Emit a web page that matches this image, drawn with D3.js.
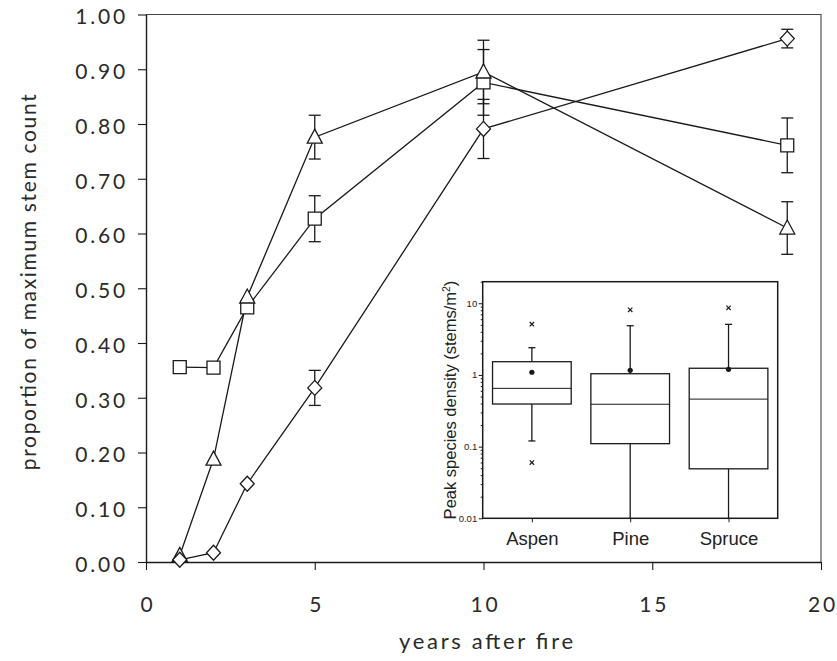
<!DOCTYPE html>
<html><head><meta charset="utf-8">
<script src="https://cdn.jsdelivr.net/npm/d3@7"></script>
<style>body{margin:0;background:#fff}svg{display:block}</style>
</head><body>
<svg id="c" width="837" height="661"></svg>
<script>
// ---- main chart data ----
const years = [1, 2, 3, 5, 10, 19];
const squareVals   = [0.356, 0.355, 0.465, 0.627, 0.876, 0.761];
const squareErr    = [null, null, null, 0.042, 0.060, 0.050];
const triangleVals = [0.012, 0.188, 0.484, 0.776, 0.895, 0.610];
const triangleErr  = [null, null, null, 0.040, 0.058, 0.048];
const diamondVals  = [0.004, 0.017, 0.143, 0.318, 0.791, 0.956];
const diamondErr   = [null, null, null, 0.032, 0.054, 0.017];
const xTicks = [0, 5, 10, 15, 20];
const yTicks = [0, 0.1, 0.2, 0.3, 0.4, 0.5, 0.6, 0.7, 0.8, 0.9, 1.0];
const xTitle = "years after fire";
const yTitle = "proportion of maximum stem count";

// ---- inset box-plot data ----
const species     = ["Aspen", "Pine", "Spruce"];
const q1          = [0.393, 0.110, 0.049];
const medianVals  = [0.650, 0.390, 0.460];
const q3          = [1.53, 1.04, 1.24];
const whiskerLow  = [0.12, 0.01, 0.01];
const whiskerHigh = [2.40, 4.86, 5.08];
const meanVals    = [1.09, 1.16, 1.20];
const outliers    = [[5.1, 0.06], [8.1], [8.65]];
const insetMajorTicks = [0.01, 0.1, 1, 10];

const INK = "#1a1a1a";
const svg = d3.select("#c");
svg.append("rect").attr("width", 837).attr("height", 661).attr("fill", "#fff");

const x = d3.scaleLinear().domain([0, 20]).range([146, 821]);
const y = d3.scaleLinear().domain([0, 1]).range([562, 14.5]);

const mainFont = "Lato, 'DejaVu Sans', sans-serif";

// frame (top and right)
svg.append("path")
  .attr("d", `M${x(0)},${y(1)}H${x(20)}V${y(0)}`)
  .attr("fill", "none").attr("stroke", "#444").attr("stroke-width", 1.1);

// axes
const gy = svg.append("g").attr("transform", `translate(${x(0)},0)`)
  .call(d3.axisLeft(y).tickValues(yTicks).tickFormat(d3.format(".2f")).tickSize(8).tickSizeOuter(0).tickPadding(10));
const gx = svg.append("g").attr("transform", `translate(0,${y(0)})`)
  .call(d3.axisBottom(x).tickValues(xTicks).tickFormat(d3.format("d")).tickSize(8).tickSizeOuter(0).tickPadding(27));
[gy, gx].forEach(g => {
  g.select(".domain").attr("stroke", INK).attr("stroke-width", 1.4);
  g.selectAll(".tick line").attr("stroke", INK).attr("stroke-width", 1.1);
  g.selectAll(".tick text").attr("fill", "#2a2a2a").style("font-family", mainFont)
    .style("font-size", "21px").style("font-weight", "400").style("letter-spacing", "2.8px");
});
gy.selectAll(".tick text").attr("dy", "0.45em");
gx.selectAll(".tick text").attr("dx", "1.4px");

// axis titles
svg.append("text").attr("x", 486).attr("y", 649).attr("text-anchor", "middle")
  .attr("textLength", 174).attr("lengthAdjust", "spacing")
  .style("font-family", mainFont).style("font-size", "22px").style("font-weight", "400")
  .attr("fill", "#2a2a2a").text(xTitle);
svg.append("text").attr("transform", `translate(36,${(y(0) + y(1)) / 2 - 6}) rotate(-90)`)
  .attr("text-anchor", "middle").attr("textLength", 376).attr("lengthAdjust", "spacing")
  .style("font-family", mainFont).style("font-size", "21px").style("font-weight", "400")
  .attr("fill", "#2a2a2a").text(yTitle);

// series
const series = [
  { vals: squareVals, err: squareErr, shape: "square" },
  { vals: triangleVals, err: triangleErr, shape: "triangle" },
  { vals: diamondVals, err: diamondErr, shape: "diamond" }
];
const line = d3.line().x(d => x(d[0])).y(d => y(d[1]));
series.forEach(s => {
  const pts = years.map((yr, i) => [yr, s.vals[i]]);
  svg.append("path").attr("d", line(pts)).attr("fill", "none")
    .attr("stroke", INK).attr("stroke-width", 1.3);
});
// error bars
series.forEach(s => {
  years.forEach((yr, i) => {
    const e = s.err[i];
    if (e == null) return;
    const cx = x(yr), top = y(s.vals[i] + e), bot = y(s.vals[i] - e);
    const g = svg.append("g").attr("stroke", INK).attr("stroke-width", 1.3);
    g.append("line").attr("x1", cx).attr("x2", cx).attr("y1", top).attr("y2", bot);
    g.append("line").attr("x1", cx - 6).attr("x2", cx + 6).attr("y1", top).attr("y2", top);
    g.append("line").attr("x1", cx - 6).attr("x2", cx + 6).attr("y1", bot).attr("y2", bot);
  });
});
// markers
function markerPath(shape, cx, cy) {
  if (shape === "square") return `M${cx - 6.5},${cy - 6.5}h13v13h-13Z`;
  if (shape === "triangle") return `M${cx},${cy - 8}L${cx + 7.5},${cy + 6}L${cx - 7.5},${cy + 6}Z`;
  return `M${cx},${cy - 7.5}L${cx + 7},${cy}L${cx},${cy + 7.5}L${cx - 7},${cy}Z`;
}
series.forEach(s => {
  years.forEach((yr, i) => {
    svg.append("path").attr("d", markerPath(s.shape, x(yr), y(s.vals[i])))
      .attr("fill", "#fff").attr("stroke", INK).attr("stroke-width", 1.3);
  });
});

// ---- inset ----
const insetFont = "'Liberation Sans', Arial, sans-serif";
const ix = d3.scalePoint().domain(species).range([482.7, 777.7]).padding(0.5);
const iy = d3.scaleLog().domain([0.01, 20]).range([518.3, 281.7]);
const boxW = ix.step() * 0.8;

svg.append("rect").attr("x", 482.7).attr("y", 281.7).attr("width", 295).attr("height", 236.6)
  .attr("fill", "#fff").attr("stroke", INK).attr("stroke-width", 1.5);

// minor log ticks
const minorTicks = [];
[0.01, 0.1, 1, 10].forEach(d => { for (let k = 2; k <= 9; k++) { const v = d * k; if (v <= 20) minorTicks.push(v); } });
const giyMinor = svg.append("g").attr("transform", "translate(482.7,0)")
  .call(d3.axisLeft(iy).tickValues(minorTicks).tickSize(2).tickFormat(""));
giyMinor.select(".domain").remove();
const giy = svg.append("g").attr("transform", "translate(482.7,0)")
  .call(d3.axisLeft(iy).tickValues(insetMajorTicks).tickSize(4).tickSizeOuter(0).tickPadding(1.5)
    .tickFormat(d => String(d)));
giy.select(".domain").remove();
[giy, giyMinor].forEach(g => g.selectAll(".tick line").attr("stroke", INK).attr("stroke-width", 1));
giy.selectAll(".tick text").attr("fill", "#222").style("font-family", insetFont).style("font-size", "9.5px");

const gix = svg.append("g").attr("transform", "translate(0,518.3)")
  .call(d3.axisBottom(ix).tickSize(4).tickSizeOuter(0).tickPadding(10));
gix.select(".domain").remove();
gix.selectAll(".tick line").attr("stroke", INK).attr("stroke-width", 1);
gix.selectAll(".tick text").attr("fill", "#222").style("font-family", insetFont).style("font-size", "18.5px");

// inset y title
const iyt = svg.append("text").attr("transform", `translate(456,400) rotate(-90)`)
  .attr("text-anchor", "middle").style("font-family", insetFont).style("font-size", "16.5px").attr("fill", "#222");
iyt.append("tspan").text("Peak species density (stems/m");
iyt.append("tspan").attr("baseline-shift", "super").style("font-size", "10.5px").text("2");
iyt.append("tspan").text(")");

// boxes
species.forEach((sp, i) => {
  const cx = ix(sp);
  const g = svg.append("g").attr("stroke", INK).attr("stroke-width", 1.3).attr("fill", "none");
  // whiskers
  g.append("line").attr("x1", cx).attr("x2", cx).attr("y1", iy(q3[i])).attr("y2", iy(whiskerHigh[i]));
  g.append("line").attr("x1", cx - 3.5).attr("x2", cx + 3.5).attr("y1", iy(whiskerHigh[i])).attr("y2", iy(whiskerHigh[i]));
  g.append("line").attr("x1", cx).attr("x2", cx).attr("y1", iy(q1[i])).attr("y2", iy(whiskerLow[i]));
  if (whiskerLow[i] > 0.01)
    g.append("line").attr("x1", cx - 3.5).attr("x2", cx + 3.5).attr("y1", iy(whiskerLow[i])).attr("y2", iy(whiskerLow[i]));
  // box
  g.append("rect").attr("x", cx - boxW / 2).attr("y", iy(q3[i])).attr("width", boxW)
    .attr("height", iy(q1[i]) - iy(q3[i])).attr("fill", "#fff");
  g.append("line").attr("x1", cx - boxW / 2).attr("x2", cx + boxW / 2)
    .attr("y1", iy(medianVals[i])).attr("y2", iy(medianVals[i])).attr("stroke-width", 1);
  // mean
  svg.append("circle").attr("cx", cx).attr("cy", iy(meanVals[i])).attr("r", 2.6).attr("fill", INK);
  // outliers
  outliers[i].forEach(v => {
    const oy = iy(v);
    svg.append("path").attr("d", `M${cx - 2.2},${oy - 2.2}L${cx + 2.2},${oy + 2.2}M${cx - 2.2},${oy + 2.2}L${cx + 2.2},${oy - 2.2}`)
      .attr("stroke", INK).attr("stroke-width", 1.2);
  });
});
</script>
</body></html>
